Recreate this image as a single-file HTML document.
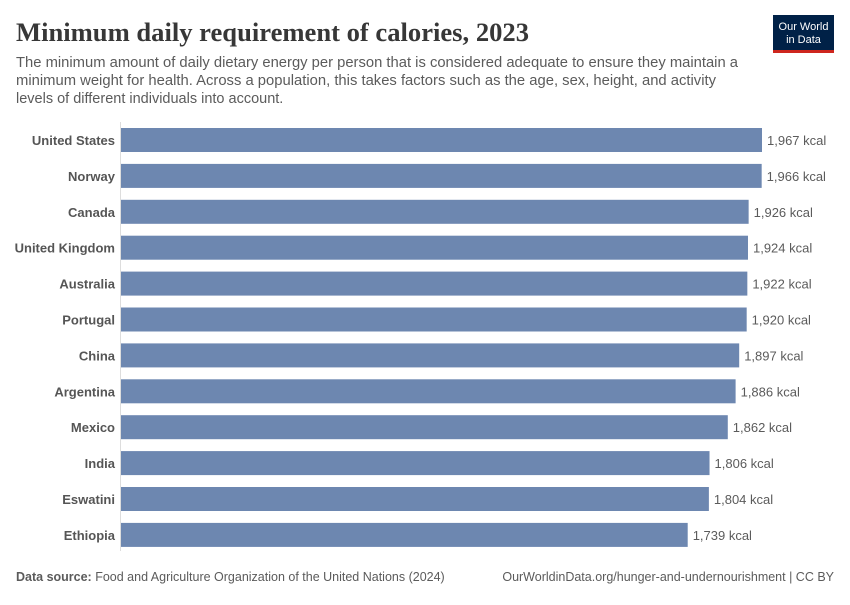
<!DOCTYPE html>
<html><head><meta charset="utf-8"><style>
body{margin:0;background:#fff;width:850px;height:600px;overflow:hidden;font-family:"Liberation Sans",sans-serif}
</style></head><body>
<svg width="850" height="600" xmlns="http://www.w3.org/2000/svg" font-family="Liberation Sans, sans-serif">
<text x="16" y="41" font-family="Liberation Serif, serif" font-size="26" font-weight="bold" fill="#373737" textLength="513" lengthAdjust="spacingAndGlyphs">Minimum daily requirement of calories, 2023</text>
<g font-size="14.5" fill="#5b5b5b">
<text x="16" y="67" textLength="722" lengthAdjust="spacingAndGlyphs">The minimum amount of daily dietary energy per person that is considered adequate to ensure they maintain a</text>
<text x="16" y="85" textLength="700" lengthAdjust="spacingAndGlyphs">minimum weight for health. Across a population, this takes factors such as the age, sex, height, and activity</text>
<text x="16" y="103">levels of different individuals into account.</text>
</g>
<rect x="773" y="15" width="61" height="35" fill="#002147"/>
<rect x="773" y="50" width="61" height="3" fill="#ce261e"/>
<text x="803.5" y="30" font-size="11" fill="#fff" text-anchor="middle">Our World</text>
<text x="803.5" y="43" font-size="11" fill="#fff" text-anchor="middle">in Data</text>
<line x1="120.5" y1="122" x2="120.5" y2="551" stroke="#ddd" stroke-width="1"/>
<g id="bars" font-size="13"></g>
<text x="16" y="581" font-size="12.5" fill="#5b5b5b"><tspan font-weight="bold">Data source:</tspan> Food and Agriculture Organization of the United Nations (2024)</text>
<text x="834" y="581" font-size="12.5" fill="#5b5b5b" text-anchor="end">OurWorldinData.org/hunger-and-undernourishment | CC BY</text>
</svg>
<script>
var d=[["United States",1967],["Norway",1966],["Canada",1926],["United Kingdom",1924],["Australia",1922],["Portugal",1920],["China",1897],["Argentina",1886],["Mexico",1862],["India",1806],["Eswatini",1804],["Ethiopia",1739]];
var g=document.getElementById("bars"),s="";
d.forEach(function(r,i){var y=128+i*35.9,w=r[1]*641/1967;
s+='<rect x="121" y="'+y+'" width="'+w+'" height="24" fill="#6d87b0"/>';
s+='<text x="115" y="'+(y+17)+'" text-anchor="end" font-weight="bold" fill="#555">'+r[0]+'</text>';
s+='<text x="'+(121+w+5)+'" y="'+(y+17)+'" fill="#5b5b5b">'+r[1].toLocaleString("en-US")+' kcal</text>';});
g.innerHTML=s;
</script>
</body></html>
